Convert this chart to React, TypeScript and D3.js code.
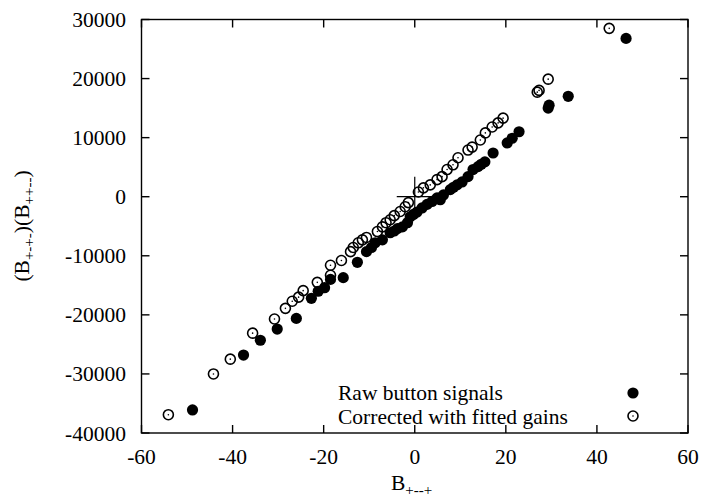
import React from "react";
import * as d3 from "d3";

const rawX = [-48.8, -37.6, -33.9, -30.2, -26.0, -22.7, -21.2, -19.8, -18.5, -15.7, -12.6, -10.6, -9.5, -8.7, -7.1, -5.4, -4.5, -3.8, -2.7, -1.6, -1.0, -0.3, 0.5, 1.6, 2.7, 3.8, 4.9, 5.6, 6.3, 7.8, 8.5, 9.3, 10.4, 11.7, 12.8, 13.9, 14.6, 15.4, 17.2, 20.3, 21.4, 22.9, 29.3, 29.5, 33.7, 46.4];
const rawY = [-36100, -26800, -24300, -22400, -20600, -17200, -16000, -15400, -14000, -13700, -11100, -9300, -8600, -7800, -7300, -6100, -5800, -5400, -5100, -4400, -3400, -3000, -2600, -1900, -1300, -800, -200, -500, 300, 1200, 1600, 2000, 2500, 3400, 4600, 5100, 5500, 5900, 7400, 9100, 9900, 11000, 15000, 15500, 17000, 26800];

const corrX = [-54.1, -44.2, -40.5, -35.6, -30.8, -28.4, -26.9, -25.5, -24.5, -21.4, -18.5, -18.5, -16.1, -14.1, -13.5, -12.4, -11.5, -10.6, -8.2, -7.1, -6.3, -5.4, -4.5, -3.2, -2.1, -1.4, 0.8, 1.9, 3.4, 4.9, 6.0, 7.1, 8.4, 9.5, 11.7, 12.6, 14.4, 15.5, 17.0, 18.3, 19.4, 26.9, 27.3, 29.3, 42.7];
const corrY = [-36900, -30000, -27500, -23100, -20700, -18900, -17700, -17000, -15900, -14500, -13300, -11600, -10800, -9300, -8600, -7800, -7300, -6900, -5900, -5100, -4400, -3900, -3200, -2500, -1700, -1000, 800, 1500, 2000, 2900, 3400, 4600, 5400, 6600, 7900, 8400, 9600, 10800, 11800, 12500, 13300, 17700, 18000, 19900, 28500];

const xTicks = [-60, -40, -20, 0, 20, 40, 60];
const yTicks = [-40000, -30000, -20000, -10000, 0, 10000, 20000, 30000];
const legendLabels = ["Raw button signals", "Corrected with fitted gains"];

export default function App() {
  const left = 141.5, right = 688, top = 19.5, bottom = 433;
  const x = d3.scaleLinear().domain([-60, 60]).range([left, right]);
  const y = d3.scaleLinear().domain([-40000, 30000]).range([bottom, top]);
  const font = "'Liberation Serif', 'Times New Roman', serif";
  const fs = 21.5;
  const tl = 8;
  const r = 5.6;
  const ro = 5.0;
  return (
    <svg width={704} height={500} style={{ position: "absolute", left: 0, top: 0, background: "#fff" }}>
      <rect x={left} y={top} width={right - left} height={bottom - top} fill="none" stroke="#000" strokeWidth={1.4} />
      {xTicks.map((t) => (
        <g key={"xt" + t}>
          <line x1={x(t)} x2={x(t)} y1={bottom} y2={bottom - tl} stroke="#000" strokeWidth={1.4} />
          <line x1={x(t)} x2={x(t)} y1={top} y2={top + tl} stroke="#000" strokeWidth={1.4} />
          <text x={x(t)} y={464} textAnchor="middle" fontFamily={font} fontSize={fs}>{t}</text>
        </g>
      ))}
      {yTicks.map((t) => (
        <g key={"yt" + t}>
          <line x1={left} x2={left + tl} y1={y(t)} y2={y(t)} stroke="#000" strokeWidth={1.4} />
          <line x1={right} x2={right - tl} y1={y(t)} y2={y(t)} stroke="#000" strokeWidth={1.4} />
          <text x={126} y={y(t)} dy="0.35em" textAnchor="end" fontFamily={font} fontSize={fs}>{t}</text>
        </g>
      ))}
      {/* origin cross */}
      <line x1={x(0) - 18} x2={x(0) + 18} y1={y(0)} y2={y(0)} stroke="#000" strokeWidth={1.2} />
      <line x1={x(0)} x2={x(0)} y1={y(0) - 20} y2={y(0) + 20} stroke="#000" strokeWidth={1.2} />
      {rawX.map((v, i) => (
        <circle key={"r" + i} cx={x(v)} cy={y(rawY[i])} r={r} fill="#000" />
      ))}
      {corrX.map((v, i) => (
        <g key={"c" + i}>
          <circle cx={x(v)} cy={y(corrY[i])} r={ro} fill="none" stroke="#000" strokeWidth={1.6} />
          <circle cx={x(v)} cy={y(corrY[i])} r={0.8} fill="#000" />
        </g>
      ))}
      {/* legend */}
      <text x={338} y={400} fontFamily={font} fontSize={fs}>{legendLabels[0]}</text>
      <circle cx={633} cy={393} r={r} fill="#000" />
      <text x={338} y={424} fontFamily={font} fontSize={fs}>{legendLabels[1]}</text>
      <circle cx={633} cy={416} r={ro} fill="none" stroke="#000" strokeWidth={1.6} />
      <circle cx={633} cy={416} r={0.8} fill="#000" />
      {/* axis labels */}
      <text x={391} y={490} fontFamily={font} fontSize={fs}>
        B<tspan dy={5} fontSize={15}>+--+</tspan>
      </text>
      <text transform="translate(29,226) rotate(-90)" textAnchor="middle" fontFamily={font} fontSize={fs}>
        (B<tspan dy={5} fontSize={15}>+-+-</tspan><tspan dy={-5}>)(B</tspan><tspan dy={5} fontSize={15}>++--</tspan><tspan dy={-5}>)</tspan>
      </text>
    </svg>
  );
}
